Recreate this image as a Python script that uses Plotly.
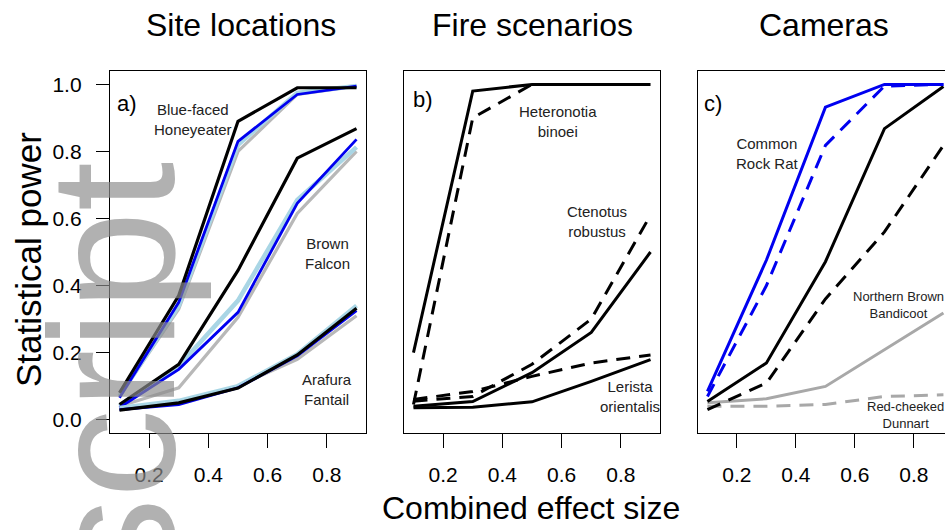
import plotly.graph_objects as go

# ---------------- data ----------------
effect = [0.1, 0.3, 0.5, 0.7, 0.9]

# panel a) Site locations
bfh_gray = [0.07, 0.33, 0.80, 0.97, 0.995]
bfh_lightblue = [0.07, 0.34, 0.82, 0.975, 0.995]
bfh_blue = [0.065, 0.35, 0.83, 0.97, 0.995]
bfh_black = [0.08, 0.37, 0.89, 0.99, 0.99]

bf_gray = [0.04, 0.095, 0.305, 0.615, 0.80]
bf_lightblue = [0.04, 0.16, 0.355, 0.655, 0.813]
bf_blue = [0.036, 0.15, 0.32, 0.645, 0.836]
bf_black = [0.045, 0.165, 0.445, 0.78, 0.868]

af_gray = [0.03, 0.05, 0.10, 0.18, 0.31]
af_lightblue = [0.035, 0.056, 0.10, 0.195, 0.34]
af_blue = [0.03, 0.045, 0.095, 0.19, 0.325]
af_black = [0.028, 0.05, 0.094, 0.193, 0.332]

# panel b) Fire scenarios
hb_solid = [0.20, 0.98, 1.0, 1.0, 1.0]
hb_dash = [0.045, 0.90, 1.0, 1.0, 1.0]
cr_solid = [0.04, 0.054, 0.14, 0.26, 0.50]
cr_dash = [0.055, 0.069, 0.165, 0.30, 0.61]
lo_solid = [0.035, 0.037, 0.053, 0.114, 0.179]
lo_dash = [0.06, 0.084, 0.129, 0.169, 0.193]

# panel c) Cameras
crr_solid = [0.084, 0.476, 0.932, 1.0, 1.0]
crr_dash = [0.069, 0.40, 0.818, 0.995, 1.0]
nbb_solid = [0.054, 0.169, 0.471, 0.868, 0.994]
nbb_dash = [0.03, 0.109, 0.36, 0.56, 0.818]
rcd_solid = [0.05, 0.062, 0.099, 0.208, 0.318]
rcd_dash = [0.04, 0.04, 0.045, 0.069, 0.074]

panel_titles = ["Site locations", "Fire scenarios", "Cameras"]
y_ticks = [0.0, 0.2, 0.4, 0.6, 0.8, 1.0]
x_ticks = [0.2, 0.4, 0.6, 0.8]

# ---------------- styling ----------------
FONT = "Liberation Sans, Arial, sans-serif"
BLUE = "#0000F0"
LIGHTBLUE = "#A9D6E5"
GRAY_A = "#B8B8B8"
GRAY_C = "#A8A8A8"
DASH = "14px,9px"
W = 945
H = 530

fig = go.Figure()


def add(y, color, width, axis, dash="solid"):
    fig.add_trace(go.Scatter(
        x=effect, y=y, mode="lines",
        line=dict(color=color, width=width, dash=dash),
        xaxis="x" + axis, yaxis="y" + axis,
        showlegend=False, hoverinfo="skip"))


# panel a
for g, lb, b, k in [(bfh_gray, bfh_lightblue, bfh_blue, bfh_black),
                    (bf_gray, bf_lightblue, bf_blue, bf_black),
                    (af_gray, af_lightblue, af_blue, af_black)]:
    add(g, GRAY_A, 3.2, "")
    add(lb, LIGHTBLUE, 4.5, "")
    add(b, BLUE, 2.8, "")
    add(k, "black", 3.2, "")

# panel b
add(hb_solid, "black", 3, "2")
add(hb_dash, "black", 3, "2", DASH)
add(cr_solid, "black", 3, "2")
add(cr_dash, "black", 3, "2", DASH)
add(lo_solid, "black", 3, "2")
add(lo_dash, "black", 3, "2", DASH)

# panel c
add(rcd_solid, GRAY_C, 3, "3")
add(rcd_dash, GRAY_C, 3, "3", DASH)
add(nbb_solid, "black", 3, "3")
add(nbb_dash, "black", 3, "3", DASH)
add(crr_solid, BLUE, 3, "3")
add(crr_dash, BLUE, 3, "3", DASH)

ydom = [1 - 433 / H, 1 - 71 / H]
xdoms = [[110 / W, 366 / W], [404 / W, 660 / W], [698 / W, 1.0]]
xranges = [[0.068, 0.932], [0.068, 0.932], [0.068, 0.068 + (945 - 698) / 295.0]]

layout = dict(
    width=W, height=H,
    margin=dict(l=0, r=0, t=0, b=0),
    paper_bgcolor="white", plot_bgcolor="white",
    font=dict(family=FONT, color="black"),
)

for i in range(3):
    sx = "" if i == 0 else str(i + 1)
    layout["xaxis" + sx] = dict(
        domain=xdoms[i], range=xranges[i], anchor="y" + sx,
        tickvals=x_ticks, ticktext=["%.1f" % v for v in x_ticks],
        ticks="outside", ticklen=14, tickwidth=1.3, tickcolor="black",
        tickfont=dict(size=21, family=FONT, color="black"),
        ticklabelstandoff=9,
        showline=True, linecolor="black", linewidth=1.3, mirror=True,
        showgrid=False, zeroline=False, fixedrange=True)
    ya = dict(
        domain=ydom, range=[-0.04, 1.04], anchor="x" + sx,
        showline=True, linecolor="black", linewidth=1.3,
        mirror=(i < 2), showgrid=False, zeroline=False, fixedrange=True)
    if i == 0:
        ya.update(tickvals=y_ticks, ticktext=["%.1f" % v for v in y_ticks],
                  ticks="outside", ticklen=13, tickwidth=1.3, tickcolor="black",
                  tickfont=dict(size=21, family=FONT, color="black"),
                  ticklabelstandoff=10)
    else:
        ya.update(showticklabels=False, ticks="")
    layout["yaxis" + sx] = ya

fig.update_layout(**layout)

ann = []


def text(x, y, s, size, color="#222222", angle=0, xanchor="center", yanchor="middle"):
    ann.append(dict(x=x / W, y=1 - y / H, xref="paper", yref="paper",
                    text=s, showarrow=False, textangle=angle,
                    xanchor=xanchor, yanchor=yanchor,
                    font=dict(family=FONT, size=size, color=color)))


# panel titles
text(241, 25, panel_titles[0], 32, "black")
text(532, 25, panel_titles[1], 32, "black")
text(824, 25, panel_titles[2], 32, "black")
# axis titles
text(531, 508, "Combined effect size", 32, "black")
text(28, 260, "Statistical power", 35, "black", angle=-90)
# panel letters
text(115, 103, "a)", 22, "black", xanchor="left")
text(411, 100, "b)", 22, "black", xanchor="left")
text(702, 103, "c)", 22, "black", xanchor="left")
# species labels
text(193, 120, "Blue-faced<br>Honeyeater", 15)
text(327, 253, "Brown<br>Falcon", 15)
text(327, 389, "Arafura<br>Fantail", 15)
text(558, 121, "Heteronotia<br>binoei", 15)
text(597, 221, "Ctenotus<br>robustus", 15)
text(630, 397, "Lerista<br>orientalis", 15)
text(767, 153, "Common<br>Rock Rat", 15)
text(898, 305, "Northern Brown<br>Bandicoot", 13)
text(905, 415, "Red-cheeked<br>Dunnart", 13)
# watermark
text(112, 375, "script", 178, "rgba(140,140,140,0.68)", angle=-90)

fig.update_layout(annotations=ann)
fig.write_html("out.html")
